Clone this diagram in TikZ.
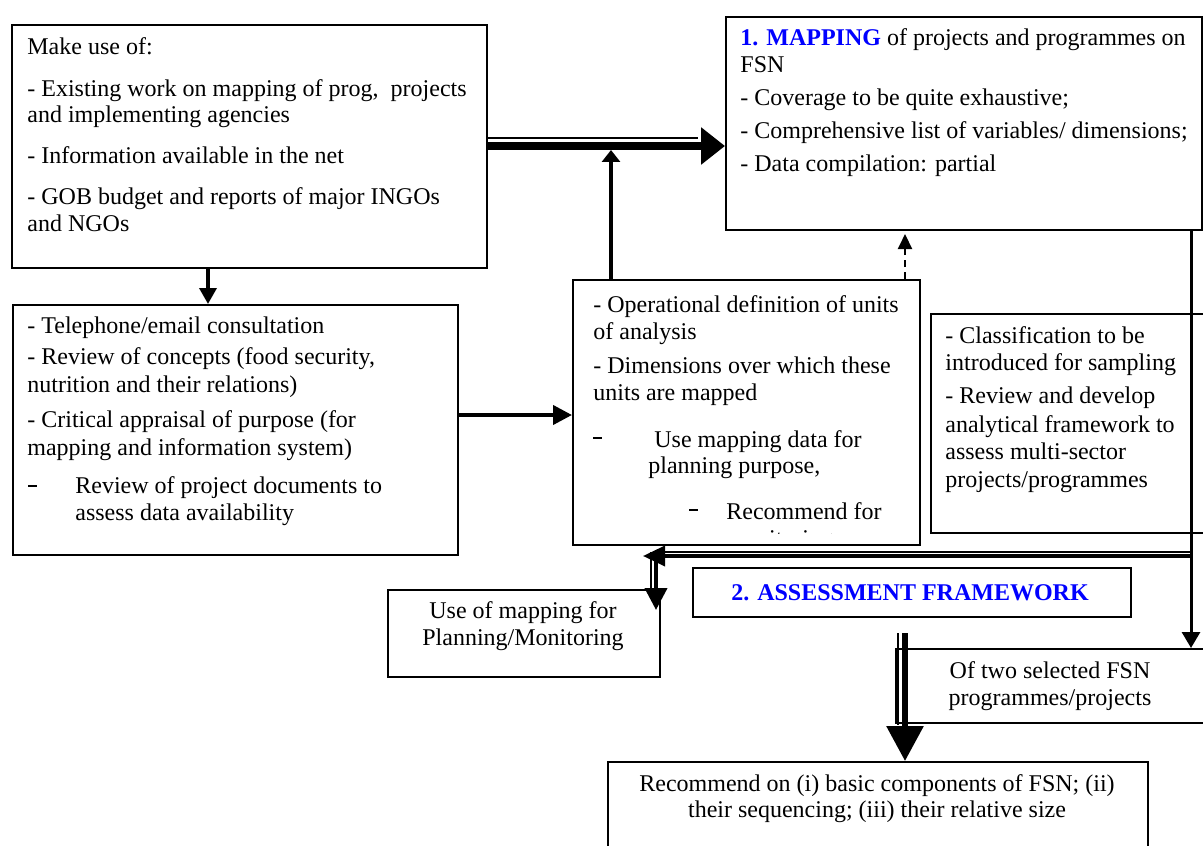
\documentclass[tikz,border=0pt]{standalone}
\usepackage{fontspec}
\setmainfont{Liberation Serif}
\usetikzlibrary{arrows.meta}
\newcommand{\bulletdash}{\rule[3.2pt]{4.5pt}{0.9pt}}
\begin{document}
\begin{tikzpicture}[x=0.5pt,y=-0.5pt,
  box/.style={draw, line width=1pt, inner sep=0pt, anchor=north west},
  txt/.style={anchor=base west, inner sep=0pt, font=\fontsize{12pt}{13.4pt}\selectfont},
  ctxt/.style={anchor=base, inner sep=0pt, font=\fontsize{12pt}{13.4pt}\selectfont},
  bul/.style={anchor=base west, inner sep=0pt},
  hl/.style={text=blue, font=\fontsize{12pt}{13.4pt}\selectfont\bfseries},
  conn/.style={line width=#1},
]
\clip (0,0) rectangle (1203,845);
\fill[white] (0,0) rectangle (1203,845);

% ---- boxes ----
\node[box, minimum width=237.5pt, minimum height=121.5pt] (A) at (11,24) {};
\node[box, minimum width=222.5pt, minimum height=125pt]   (B) at (12,304) {};
\node[box, minimum width=238pt,   minimum height=106.5pt] (C) at (725,16) {};
\node[box, minimum width=173.5pt, minimum height=132.5pt] (D) at (572,279) {};
\node[box, minimum width=142.5pt, minimum height=109.5pt] (E) at (930,313) {};
\node[box, minimum width=136pt,   minimum height=43.5pt]  (F) at (387,589) {};
\node[box, minimum width=219pt,   minimum height=24.5pt]  (G) at (692,567) {};
\node[box, minimum width=160pt,   minimum height=37pt]    (H) at (895,648) {};
\node[box, minimum width=270pt,   minimum height=50pt]    (I) at (607,761) {};

% ---- texts: sources ----
\node[txt] (a1) at (27,55)  {Make use of:};
\node[txt] (a2) at (27,97)  {- Existing work on mapping of prog,\ \ projects};
\node[txt] (a3) at (27,123) {and implementing agencies};
\node[txt] (a4) at (27,164) {- Information available in the net};
\node[txt] (a5) at (27,205) {- GOB budget and reports of major INGOs};
\node[txt] (a6) at (27,232) {and NGOs};

% ---- texts: mapping ----
\node[txt] (c1) at (740,46)  {\textcolor{blue}{\bfseries 1. MAPPING} of projects and programmes on};
\node[txt] (c2) at (740,73)  {FSN};
\node[txt] (c3) at (740,106) {- Coverage to be quite exhaustive;};
\node[txt] (c4) at (740,139) {- Comprehensive list of variables/ dimensions;};
\node[txt] (c5) at (740,172) {- Data compilation: partial};

% ---- texts: consultation ----
\node[txt] (b1) at (27,333) {- Telephone/email consultation};
\node[txt] (b2) at (27,364) {- Review of concepts (food security,};
\node[txt] (b3) at (27,392) {nutrition and their relations)};
\node[txt] (b4) at (27,427) {- Critical appraisal of purpose (for};
\node[txt] (b5) at (27,455) {mapping and information system)};
\node[bul] (b6) at (28,493) {\bulletdash};
\node[txt] (b7) at (75,493) {Review of project documents to};
\node[txt] (b8) at (75,520) {assess data availability};

% ---- texts: units of analysis ----
\node[txt] (d1) at (593,312) {- Operational definition of units};
\node[txt] (d2) at (593,339) {of analysis};
\node[txt] (d3) at (593,373) {- Dimensions over which these};
\node[txt] (d4) at (593,400) {units are mapped};
\node[bul] (d5) at (593,445) {\bulletdash};
\node[txt] (d6) at (654,447) {Use mapping data for};
\node[txt] (d7) at (648,473) {planning purpose,};
\node[bul] (d8) at (689,517) {\bulletdash};
\node[txt] (d9) at (726,519) {Recommend for};
\begin{scope}
  \clip (572,279) rectangle (919,533.5);
  \node[txt] (d10) at (726,546) {monitoring};
\end{scope}

% ---- texts: classification ----
\node[txt] (e1) at (945,343) {- Classification to be};
\node[txt] (e2) at (945,370) {introduced for sampling};
\node[txt] (e3) at (945,403) {- Review and develop};
\node[txt] (e4) at (945,432) {analytical framework to};
\node[txt] (e5) at (945,459) {assess multi-sector};
\node[txt] (e6) at (945,487) {projects/programmes};

% ---- texts: small boxes ----
\node[ctxt] (f1) at (523,618) {Use of mapping for};
\node[ctxt] (f2) at (523,645) {Planning/Monitoring};
\node[ctxt, hl] (g1) at (910,600) {2. ASSESSMENT FRAMEWORK};
\node[ctxt] (h1) at (1050,678) {Of two selected FSN};
\node[ctxt] (h2) at (1050,705) {programmes/projects};
\node[ctxt] (i1) at (877,791) {Recommend on (i) basic components of FSN; (ii)};
\node[ctxt] (i2) at (877,817) {their sequencing; (iii) their relative size};

% ---- connectors ----
% sources -> consultation
\draw[conn=1.75pt, -{Triangle[length=8pt,width=8.5pt]}] (A.south -| 208,0) -- (B.north -| 208,0);
% sources => mapping (thin + thick pair)
\draw[conn=4pt, -{Triangle[length=12pt,width=18pt]}] (A.east |- 0,146) -- (C.west |- 0,146);
\draw[conn=1pt, shorten >=13.5pt] (A.east |- 0,138) -- (C.west |- 0,138);
% units of analysis -> mapping link
\coordinate (upjoin) at (611,150);
\draw[conn=2pt, -{Triangle[length=6pt,width=9pt]}] (D.north -| upjoin) -- (upjoin);
% dashed feedback
\draw[conn=1pt, dash pattern=on 3.5pt off 2.5pt, shorten >=1.5pt, -{Triangle[length=7.5pt,width=7pt]}] (D.north -| 905,0) -- (C.south -| 905,0);
% consultation -> units of analysis
\draw[conn=2pt, -{Triangle[length=9.5pt,width=9.5pt]}] (B.east |- 0,415) -- (D.west |- 0,415);
% mapping -> selected programmes
\draw[conn=1.5pt, -{Triangle[length=8pt,width=9pt]}] (C.south -| 1191,0) -- (H.north -| 1191,0);
% branch back to planning use (double line)
\coordinate (brR)  at (1191,556);
\coordinate (brL)  at (643,556);
\coordinate (brRt) at (1191,551.5);
\coordinate (brLt) at (665,551.5);
\draw[conn=1.75pt, -{Triangle[length=11pt,width=10pt]}] (brR) -- (brL);
\draw[conn=1pt] (brRt) -- (brLt);
\coordinate (dnA) at (656,556);
\coordinate (dnB) at (651,552);
\draw[conn=2pt, -{Triangle[length=11pt,width=11pt]}] (dnA) -- (F.north -| dnA) -- ++(0,21);
\draw[conn=0.75pt] (dnB) -- (F.north -| dnB);
% assessment -> recommendation (double line)
\coordinate (asA) at (905,633);
\coordinate (asB) at (897.5,633);
\draw[conn=3pt, -{Triangle[length=17.5pt,width=18pt]}] (asA) -- (I.north -| asA);
\draw[conn=1pt] (asB) -- ++(0,92);
\end{tikzpicture}
\end{document}
